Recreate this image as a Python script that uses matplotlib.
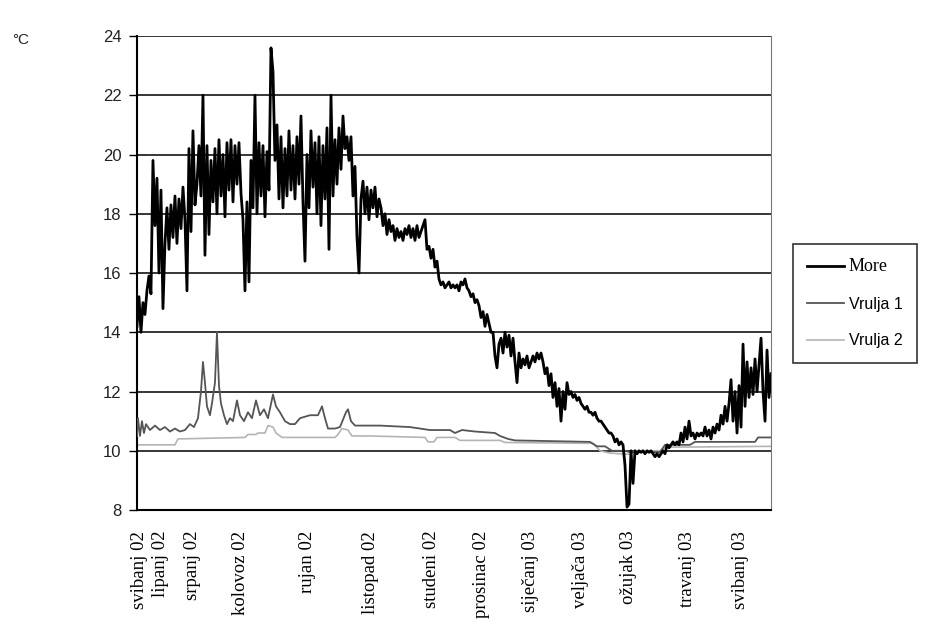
import numpy as np
import matplotlib
matplotlib.use('Agg')
import matplotlib.pyplot as plt

# More - sampled readings (index ~ sample number)
more = [14.2, 15.2, 14.0, 15.0, 14.6, 15.4, 15.9, 15.3,
        19.8, 17.6, 19.2,
        16.0, 18.8, 14.8,
        17.0, 18.2, 16.8, 18.3,
        17.2, 18.6, 17.0, 18.5, 17.5, 18.9, 17.8, 15.4,
        20.2, 17.4, 20.8, 18.3,
        19.0, 20.3, 18.6, 22.0, 16.6, 20.3, 17.3, 19.8,
        18.4, 20.2, 18.0, 20.5, 18.6, 20.0, 17.9, 20.4, 18.8, 20.5, 18.4, 20.3, 19.0, 20.4, 18.7,
        17.8, 15.4, 18.4, 15.7,
        19.8, 18.2, 22.0, 18.0,
        20.4, 18.6, 20.3, 17.9, 20.1, 18.8,
        23.6, 22.8, 19.8,
        21.0, 18.5, 20.6, 18.2, 20.2, 18.6,
        20.8, 18.8, 20.3, 18.5, 20.6, 19.0, 21.3, 18.4, 16.4,
        20.0, 18.2, 20.8, 18.9, 20.4, 18.0, 20.6, 17.6, 20.3, 18.5, 20.9,
        16.8, 22.0,
        18.6, 20.5, 19.0, 20.9, 19.5, 21.3, 20.2,
        20.6, 19.8, 20.6, 18.6, 19.6,
        17.2, 16.0, 18.5,
        19.1, 18.0, 18.9, 17.8, 18.8, 18.2, 18.9, 17.9, 18.5,
        18.2, 17.6, 18.0, 17.3, 17.8, 17.4, 17.6, 17.1, 17.5, 17.2,
        17.4, 17.1, 17.5, 17.3, 17.6, 17.2, 17.5, 17.1, 17.6, 17.2, 17.4, 17.6,
        17.8, 16.8, 16.9, 16.5, 16.8, 16.2, 16.4,
        15.8, 15.6, 15.7, 15.5, 15.6, 15.7, 15.5, 15.6, 15.5, 15.6, 15.4, 15.7, 15.6,
        15.8, 15.5, 15.4, 15.2, 15.3, 15.0, 15.1, 14.9,
        14.5, 14.7, 14.2, 14.6, 14.3, 14.0,
        14.0, 13.2, 12.8, 13.6,
        13.8, 13.3, 14.0, 13.5, 13.9, 13.2, 13.8, 13.0,
        12.3,
        13.3, 12.8, 13.1, 12.9, 13.2, 12.8, 13.0, 13.2, 13.0, 13.3, 13.1, 13.3,
        13.0, 12.6, 12.8, 12.2, 12.6, 11.8, 12.3, 11.5, 12.1,
        11.0, 12.0,
        11.4, 12.3, 11.9,
        12.0, 11.8, 11.9, 11.7, 11.8,
        11.6, 11.5, 11.4, 11.5, 11.3, 11.3, 11.2, 11.3, 11.1, 11.0,
        11.0, 10.9, 10.8, 10.7, 10.6, 10.6, 10.5,
        10.3, 10.4, 10.2, 10.3, 10.2,
        9.5, 8.1, 8.2, 10.0,
        8.9, 10.0, 9.9,
        10.0, 9.95, 10.0, 9.9, 10.0, 9.95, 10.0, 9.9, 9.8, 9.9, 9.8, 9.9, 10.0, 9.9,
        10.2, 10.1, 10.2, 10.3, 10.2, 10.3, 10.2,
        10.6, 10.3, 10.8, 10.4, 11.0,
        10.5, 10.6, 10.4, 10.6, 10.5, 10.6, 10.5,
        10.8, 10.5, 10.7, 10.4, 10.8, 10.6, 10.9, 10.7,
        11.2, 10.9, 11.5, 11.0, 11.6,
        12.4, 11.0, 12.0, 10.6, 12.2, 10.8, 13.6,
        11.5, 13.0, 11.8, 12.8, 11.9, 13.1, 12.0, 12.9,
        13.8, 12.0, 11.0, 13.4, 11.8, 12.6]

# Vrulja 1 - breakpoints (sample index, value)
v1_idx = [0, 0.5, 1.5, 2.5, 3.5, 4.5, 6.5, 9, 11.5, 14, 16.5, 19, 21.5, 24, 26.5, 28.5,
          30.5, 32, 33, 34, 35, 36.5, 37.5, 39, 40, 41, 42, 43.5, 45, 46.5, 48, 50, 51.5,
          53.5, 55.5, 57.5, 59.5, 61.5, 63.5, 65.5, 68, 69.5, 71.5, 74, 76.5, 79, 81.5,
          86.5, 90.5, 92.5, 94, 95.5, 99, 101.5, 104.5, 105.5, 107, 109, 121.5, 136.5,
          146.5, 156.5, 159, 162.5, 169, 179, 181.5, 185.5, 189, 226.5, 230, 234, 237.5,
          244, 246.5, 261.5, 264, 276.5, 279, 309, 310.5, 317]
v1_val = [10.5, 11.1, 10.5, 11.0, 10.6, 10.9, 10.7, 10.85, 10.7, 10.8, 10.65, 10.75, 10.65,
          10.7, 10.9, 10.8, 11.1, 12.0, 13.0, 12.3, 11.5, 11.2, 11.6, 12.3, 14.0, 12.2, 11.6,
          11.2, 10.9, 11.1, 11.0, 11.7, 11.2, 11.0, 11.3, 11.1, 11.7, 11.2, 11.4, 11.1, 11.9,
          11.5, 11.3, 11.0, 10.9, 10.9, 11.1, 11.2, 11.2, 11.5, 11.1, 10.75, 10.75, 10.8,
          11.3, 11.4, 11.0, 10.85, 10.85, 10.8, 10.7, 10.7, 10.6, 10.7, 10.65, 10.6, 10.5,
          10.4, 10.35, 10.3, 10.15, 10.15, 10.0, 10.0, 9.95, 9.95, 10.2, 10.2, 10.3, 10.3,
          10.45, 10.45]

# Vrulja 2 - breakpoints (sample index, value)
v2_idx = [0, 19, 20.5, 54, 55.5, 59.5, 60.5, 64, 65.5, 68, 69.5, 72.5, 99, 100.5, 102.5,
          105.5, 107.5, 116.5, 144, 145.5, 148.5, 150, 159, 161.5, 181.5, 184, 228, 231.5,
          236.5, 246.5, 249, 261.5, 264, 317]
v2_val = [10.2, 10.2, 10.4, 10.45, 10.55, 10.55, 10.6, 10.6, 10.85, 10.8, 10.6, 10.45,
          10.45, 10.55, 10.75, 10.7, 10.5, 10.5, 10.45, 10.3, 10.3, 10.45, 10.45, 10.35,
          10.35, 10.28, 10.25, 10.0, 9.92, 9.88, 10.0, 10.0, 10.12, 10.15]

month_pos = [1.5, 12, 28, 52, 85.5, 117, 147.5, 172, 196.5, 221.5, 245.5, 275, 301.5]
month_labels = ['svibanj 02', 'lipanj 02', 'srpanj 02', 'kolovoz 02', 'rujan 02',
                'listopad 02', 'studeni 02', 'prosinac 02', 'siječanj 03', 'veljača 03',
                'ožujak 03', 'travanj 03', 'svibanj 03']

fig = plt.figure(figsize=(9.33, 6.32), dpi=100)
ax = fig.add_axes([0.1468, 0.193, 0.6796, 0.750])

for y in range(10, 25, 2):
    ax.axhline(y, color='black', lw=1.1, zorder=1)

x_more = np.arange(len(more))
ax.plot(v2_idx, v2_val, color='#b4b4b4', lw=1.2, label='Vrulja 2', zorder=2)
ax.plot(v1_idx, v1_val, color='#555555', lw=1.3, label='Vrulja 1', zorder=3)
ax.plot(x_more, more, color='black', lw=2.0, label='More', zorder=4)

ax.set_xlim(0, len(more) - 1)
ax.set_ylim(8, 24)
ax.set_yticks(range(8, 25, 2))
ax.set_yticklabels([str(v) for v in range(8, 25, 2)], family='Liberation Sans', fontsize=12,
                   color='#222222')
ax.tick_params(axis='y', length=6, width=1, pad=5)
ax.set_xticks(month_pos)
ax.set_xticklabels(month_labels, rotation=90, family='Liberation Serif', fontsize=13.5)
ax.tick_params(axis='x', length=0, pad=15)

ax.spines['left'].set_linewidth(1.5)
ax.spines['bottom'].set_linewidth(1.5)
ax.spines['top'].set_visible(False)
ax.spines['right'].set_color('#777777')

fig.text(0.013, 0.93, '°C', family='Liberation Sans', fontsize=11, color='#222222')

handles, labels = ax.get_legend_handles_labels()
order = [2, 1, 0]
leg = fig.legend([handles[i] for i in order], [labels[i] for i in order],
                 loc='upper left', bbox_to_anchor=(0.85, 0.614), borderaxespad=0,
                 frameon=True, fancybox=False, edgecolor='black', handlelength=2.3,
                 handletextpad=0.3, labelspacing=1.35, borderpad=0.9, fontsize=11.5)
leg.get_frame().set_linewidth(1.2)
texts = leg.get_texts()
texts[0].set_family('Liberation Serif')
texts[0].set_fontsize(13)
texts[1].set_family('Liberation Sans')
texts[2].set_family('Liberation Sans')

fig.savefig('out.png', dpi=100)
